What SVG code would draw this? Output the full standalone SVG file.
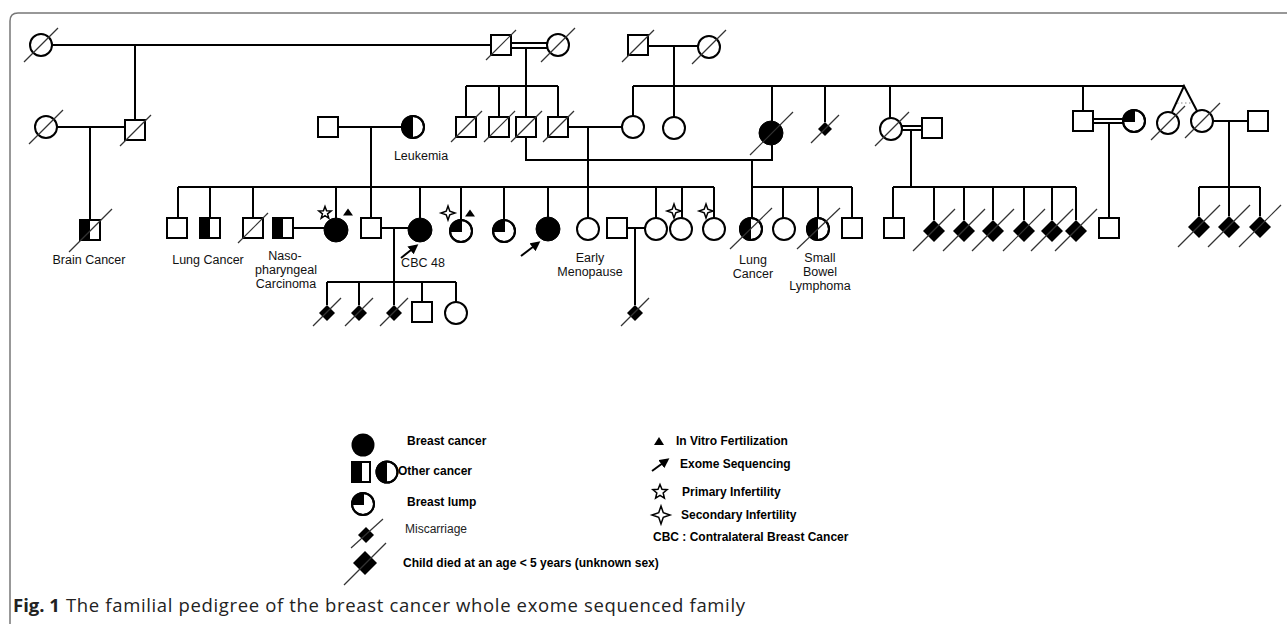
<svg xmlns="http://www.w3.org/2000/svg" width="1287" height="624" viewBox="0 0 1287 624">
<style>
.ln{stroke:#000;stroke-width:2;fill:none}
.nd{stroke:#000;stroke-width:2;fill:#fff}
.bk{fill:#000}
.sl{stroke:#333;stroke-width:1.2}
.lb{font-family:"Liberation Sans",Arial,sans-serif;font-size:12.5px;fill:#111;text-anchor:middle}
.lg{font-family:"Liberation Sans",Arial,sans-serif;font-size:12px;font-weight:bold;fill:#000}
.lgn{font-family:"Liberation Sans",Arial,sans-serif;font-size:12px;fill:#222}
.cap{font-family:"Open Sans","Noto Sans",sans-serif;font-size:18.5px;fill:#222}
.st{fill:#fff;stroke:#000;stroke-width:1.5;stroke-linejoin:miter}
</style>
<defs>
<g id="sq"><rect x="-10" y="-10" width="20" height="20" class="nd"/></g>
<g id="sqh"><rect x="-10" y="-10" width="20" height="20" class="nd"/><rect x="-10" y="-10" width="10" height="20" class="bk"/><rect x="-10" y="-10" width="20" height="20" class="ln"/></g>
<g id="ci"><circle r="11" class="nd"/></g>
<g id="cif"><circle r="12" fill="#000" stroke="#000" stroke-width="1"/></g>
<g id="cih"><circle r="11" class="nd"/><path d="M0,-11 A11,11 0 0 0 0,11 Z" class="bk"/><circle r="11" class="ln"/></g>
<g id="ciq"><circle r="11" class="nd"/><path d="M0,0 V-11 A11,11 0 0 0 -11,0 Z" class="bk"/><path d="M0,-11 V0 H-11" class="ln"/><circle r="11" class="ln"/></g>
<path id="dms" d="M0,-8 L8,0 L0,8 L-8,0 Z" fill="#000"/>
<path id="dml" d="M0,-11 L11,0 L0,11 L-11,0 Z" fill="#000"/>
<path id="star5" d="M0,-6.5 L1.59,-2.18 L6.18,-2.01 L2.57,0.83 L3.82,5.26 L0,2.7 L-3.82,5.26 L-2.57,0.83 L-6.18,-2.01 L-1.59,-2.18 Z" class="st"/>
<path id="star4" d="M0,-7 L1.8,-1.8 L7,0 L1.8,1.8 L0,7 L-1.8,1.8 L-7,0 L-1.8,-1.8 Z" class="st"/>
<path id="tri" d="M-5,3.5 L0,-3.5 L5,3.5 Z" fill="#000"/>
<marker id="ah" viewBox="0 0 10 10" refX="7" refY="5" markerWidth="10" markerHeight="10" markerUnits="userSpaceOnUse" orient="auto"><path d="M0,0 L10,5 L0,10 Z" fill="#000"/></marker>
</defs>
<rect width="1287" height="624" fill="#fff"/>
<path d="M10,624 V21 Q10,13 18,13 H1287" fill="none" stroke="#777" stroke-width="1.5"/>

<g id="connectors" class="ln">
<path d="M52,45 H491 M135,45 V120 M57,127 H125 M90,127 V220"/>
<path d="M511,43 H547 M511,48 H547 M526,48 V86 M466,86 H558 M466,86 V117 M499,86 V117 M526,86 V117 M558,86 V117"/>
<path d="M648,46 H698 M674,46 V117 M633,86 H1184 M633,86 V116 M772,86 V121 M825,86 V122 M890,86 V118 M1083,86 V111"/>
<path d="M1172,112 L1184,86 L1197,111"/>
<path d="M338,127 H402 M371,127 V187 M568,127 H622 M588,127 V187 M526,137 V160 H772 V145 M752,160 V187"/>
<path d="M178,187 H714 M178,187 V218 M210,187 V218 M253,187 V218 M336,187 V218 M371,187 V218 M420,187 V218 M461,187 V220 M504,187 V220 M548,187 V217 M588,187 V218 M656,187 V218 M682,187 V218 M714,187 V218"/>
<path d="M294,228 H324 M382,228 H408 M394,228 V282 M327,282 H456 M327,282 V305 M359,282 V305 M394,282 V305 M422,282 V302 M456,282 V302"/>
<path d="M627,228 H645 M635,228 V305"/>
<path d="M752,187 H852 M752,187 V218 M783,187 V218 M818,187 V218 M852,187 V218"/>
<path d="M902,126 H922 M902,130 H922 M911,130 V187 M893,187 H1076 M893,187 V218 M934,187 V220 M964,187 V220 M993,187 V220 M1024,187 V220 M1052,187 V220 M1076,187 V220"/>
<path d="M1093,119 H1123 M1093,123 H1123 M1109,123 V218"/>
<path d="M1213,121 H1248 M1229,121 V187 M1199,187 H1260 M1199,187 V216 M1229,187 V216 M1260,187 V216"/>
<path d="M1177,103 H1192" stroke="#888" stroke-width="1.2" stroke-dasharray="1.5 2.5"/>
</g>

<!-- Generation I -->
<g id="I1"><use href="#ci" x="41" y="45"/><line class="sl" x1="24" y1="62" x2="58" y2="28"/></g>
<g id="I2"><use href="#sq" x="501" y="45"/><line class="sl" x1="486" y1="60" x2="516" y2="30"/></g>
<g id="I3"><use href="#ci" x="558" y="45"/><line class="sl" x1="541" y1="62" x2="575" y2="28"/></g>
<g id="I4"><use href="#sq" x="638" y="45"/><line class="sl" x1="622" y1="62" x2="654" y2="30"/></g>
<g id="I5"><use href="#ci" x="709" y="47"/><line class="sl" x1="692" y1="64" x2="726" y2="30"/></g>

<!-- Generation II -->
<g id="II1"><use href="#ci" x="46" y="127"/><line class="sl" x1="29" y1="144" x2="63" y2="110"/></g>
<g id="II2"><use href="#sq" x="135" y="130"/><line class="sl" x1="120" y1="146" x2="151" y2="115"/></g>
<g id="II3"><use href="#sq" x="328" y="127"/></g>
<g id="II4"><use href="#cih" x="413" y="127"/><text class="lb" x="421" y="160">Leukemia</text></g>
<g id="II5"><use href="#sq" x="466" y="127"/><line class="sl" x1="451" y1="142" x2="482" y2="111"/></g>
<g id="II6"><use href="#sq" x="499" y="127"/><line class="sl" x1="484" y1="142" x2="515" y2="111"/></g>
<g id="II7"><use href="#sq" x="526" y="127"/><line class="sl" x1="511" y1="142" x2="542" y2="111"/></g>
<g id="II8"><use href="#sq" x="558" y="127"/><line class="sl" x1="543" y1="142" x2="574" y2="111"/></g>
<g id="II9"><use href="#ci" x="633" y="127"/></g>
<g id="II10"><use href="#ci" x="674" y="128"/></g>
<g id="II11"><use href="#cif" x="771" y="133"/><line class="sl" x1="750" y1="155" x2="793" y2="112"/></g>
<g id="II12"><path d="M825,122 L832,129 L825,136 L818,129 Z" fill="#000"/><line class="sl" x1="811" y1="143" x2="839" y2="115"/></g>
<g id="II13"><use href="#ci" x="891" y="129"/><line class="sl" x1="875" y1="146" x2="909" y2="112"/></g>
<g id="II14"><use href="#sq" x="932" y="128"/></g>
<g id="II15"><use href="#sq" x="1083" y="121"/></g>
<g id="II16"><use href="#ciq" x="1134" y="121"/></g>
<g id="II17"><use href="#ci" x="1168" y="123"/><line class="sl" x1="1151" y1="140" x2="1185" y2="106"/></g>
<g id="II18"><use href="#ci" x="1202" y="121"/><line class="sl" x1="1185" y1="138" x2="1220" y2="103"/></g>
<g id="II19"><use href="#sq" x="1258" y="121"/></g>

<!-- Generation III -->
<g id="III1"><use href="#sqh" x="90" y="230"/><line class="sl" x1="69" y1="252" x2="112" y2="209"/><text class="lb" x="89" y="264">Brain Cancer</text></g>
<g id="III2"><use href="#sq" x="177" y="228"/></g>
<g id="III3"><use href="#sqh" x="210" y="228"/><text class="lb" x="208" y="264">Lung Cancer</text></g>
<g id="III4"><use href="#sq" x="253" y="228"/><line class="sl" x1="238" y1="243" x2="268" y2="213"/></g>
<g id="III5"><use href="#sqh" x="283" y="228"/><text class="lb" x="285" y="260">Naso-</text><text class="lb" x="286" y="274">pharyngeal</text><text class="lb" x="286" y="288">Carcinoma</text></g>
<g id="III6"><use href="#cif" x="336" y="230"/><use href="#star5" x="325" y="213"/><use href="#tri" x="348" y="212"/></g>
<g id="III7"><use href="#sq" x="371" y="228"/></g>
<g id="III8"><use href="#cif" x="420" y="230"/><line x1="401" y1="258" x2="416" y2="246" stroke="#000" stroke-width="2" marker-end="url(#ah)"/><text class="lb" x="423" y="267">CBC 48</text></g>
<g id="III9"><use href="#ciq" x="461" y="231"/><use href="#star4" x="448" y="213"/><use href="#tri" x="470" y="213"/></g>
<g id="III10"><use href="#ciq" x="504" y="231"/></g>
<g id="III11"><use href="#cif" x="548" y="229"/><line x1="521" y1="256" x2="538" y2="243" stroke="#000" stroke-width="2" marker-end="url(#ah)"/></g>
<g id="III12"><use href="#ci" x="588" y="229"/><text class="lb" x="590" y="262">Early</text><text class="lb" x="590" y="276">Menopause</text></g>
<g id="III13"><use href="#sq" x="617" y="228"/></g>
<g id="III14"><use href="#ci" x="656" y="229"/></g>
<g id="III15"><use href="#ci" x="681" y="229"/><use href="#star4" x="674" y="211"/></g>
<g id="III16"><use href="#ci" x="714" y="229"/><use href="#star4" x="706" y="211"/></g>
<g id="III17"><use href="#cih" x="751" y="229"/><line class="sl" x1="730" y1="249" x2="772" y2="208"/><text class="lb" x="753" y="264">Lung</text><text class="lb" x="753" y="278">Cancer</text></g>
<g id="III18"><use href="#ci" x="784" y="229"/></g>
<g id="III19"><use href="#cih" x="818" y="229"/><line class="sl" x1="797" y1="249" x2="840" y2="208"/><text class="lb" x="820" y="262">Small</text><text class="lb" x="820" y="276">Bowel</text><text class="lb" x="820" y="290">Lymphoma</text></g>
<g id="III20"><use href="#sq" x="852" y="228"/></g>
<g id="III21"><use href="#sq" x="894" y="228"/></g>
<g id="III22"><use href="#dml" x="934" y="231"/><line class="sl" x1="913" y1="251" x2="955" y2="209"/></g>
<g id="III23"><use href="#dml" x="964" y="231"/><line class="sl" x1="943" y1="251" x2="985" y2="209"/></g>
<g id="III24"><use href="#dml" x="993" y="231"/><line class="sl" x1="972" y1="251" x2="1014" y2="209"/></g>
<g id="III25"><use href="#dml" x="1024" y="231"/><line class="sl" x1="1003" y1="251" x2="1045" y2="209"/></g>
<g id="III26"><use href="#dml" x="1052" y="231"/><line class="sl" x1="1031" y1="251" x2="1073" y2="209"/></g>
<g id="III27"><use href="#dml" x="1076" y="231"/><line class="sl" x1="1055" y1="251" x2="1097" y2="209"/></g>
<g id="III28"><use href="#sq" x="1109" y="228"/></g>
<g id="III29"><use href="#dml" x="1199" y="227"/><line class="sl" x1="1178" y1="247" x2="1220" y2="205"/></g>
<g id="III30"><use href="#dml" x="1229" y="227"/><line class="sl" x1="1208" y1="247" x2="1250" y2="205"/></g>
<g id="III31"><use href="#dml" x="1260" y="227"/><line class="sl" x1="1239" y1="247" x2="1281" y2="205"/></g>

<!-- Generation IV -->
<g id="IV1"><use href="#dms" x="327" y="313"/><line class="sl" x1="313" y1="326" x2="341" y2="298"/></g>
<g id="IV2"><use href="#dms" x="359" y="313"/><line class="sl" x1="345" y1="326" x2="373" y2="298"/></g>
<g id="IV3"><use href="#dms" x="394" y="313"/><line class="sl" x1="380" y1="326" x2="408" y2="298"/></g>
<g id="IV4"><use href="#sq" x="422" y="312"/></g>
<g id="IV5"><use href="#ci" x="456" y="313"/></g>
<g id="IV6"><use href="#dms" x="635" y="313"/><line class="sl" x1="621" y1="326" x2="649" y2="298"/></g>

<!-- Legend -->
<g id="legend">
<circle cx="363" cy="445" r="11.5" fill="#000"/>
<text class="lg" x="407" y="445">Breast cancer</text>
<rect x="352" y="462" width="18" height="20" class="nd"/><rect x="352" y="462" width="10" height="20" fill="#000"/><rect x="352" y="462" width="18" height="20" class="ln"/>
<circle cx="387" cy="472" r="10.5" class="nd"/><path d="M387,461.5 A10.5,10.5 0 0 0 387,482.5 Z" fill="#000"/><circle cx="387" cy="472" r="10.5" class="ln"/>
<text class="lg" x="398" y="475">Other cancer</text>
<circle cx="363" cy="504" r="11" class="nd"/><path d="M363,504 V493 A11,11 0 0 0 352,504 Z" fill="#000"/><path d="M363,493 V504 H352" class="ln"/><circle cx="363" cy="504" r="11" class="ln"/>
<text class="lg" x="407" y="506">Breast lump</text>
<path d="M366,527 L374,535 L366,543 L358,535 Z" fill="#000"/><line class="sl" x1="351" y1="548" x2="383" y2="519"/>
<text class="lgn" x="405" y="533">Miscarriage</text>
<path d="M365,551 L377,563 L365,575 L353,563 Z" fill="#000"/><line class="sl" x1="344" y1="585" x2="386" y2="543"/>
<text class="lg" x="403" y="567">Child died at an age &lt; 5 years (unknown sex)</text>
<path d="M654,445 L659,437 L664,445 Z" fill="#000"/>
<text class="lg" x="676" y="445">In Vitro Fertilization</text>
<line x1="652" y1="471" x2="667" y2="460" stroke="#000" stroke-width="2" marker-end="url(#ah)"/>
<text class="lg" x="680" y="468">Exome Sequencing</text>
<path d="M660,484.5 L661.96,489.33 L667.13,489.68 L663.17,493.02 L664.41,498.07 L660,495.3 L655.59,498.07 L656.83,493.02 L652.87,489.68 L658.04,489.33 Z" class="st"/>
<text class="lg" x="682" y="496">Primary Infertility</text>
<path d="M661,506 L663.3,512.7 L670,515 L663.3,517.3 L661,524 L658.7,517.3 L652,515 L658.7,512.7 Z" class="st"/>
<text class="lg" x="681" y="519">Secondary Infertility</text>
<text class="lg" x="653" y="541">CBC : Contralateral Breast Cancer</text>
</g>

<g id="caption">
<text class="cap" x="13" y="612" font-weight="bold">Fig. 1</text>
<text class="cap" x="66" y="612" textLength="679" lengthAdjust="spacing">The familial pedigree of the breast cancer whole exome sequenced family</text>
</g>
</svg>
